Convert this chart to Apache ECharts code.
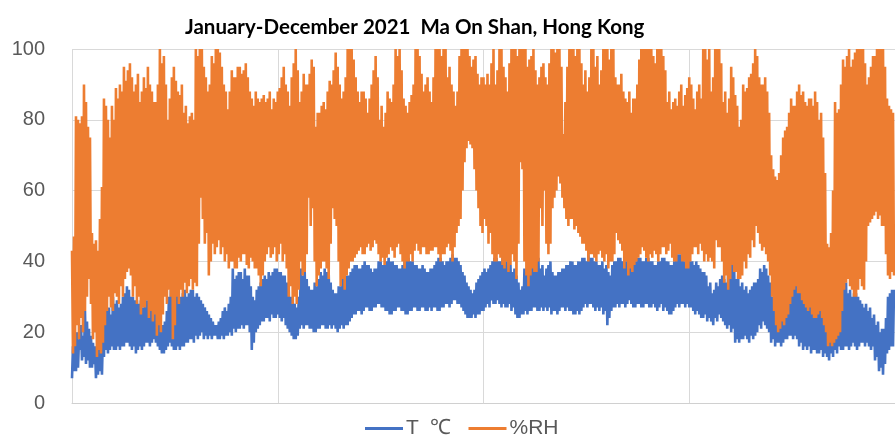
<!DOCTYPE html>
<html>
<head>
<meta charset="utf-8">
<script src="https://cdn.jsdelivr.net/npm/echarts@6/dist/echarts.min.js"></script>
<style>html,body{margin:0;padding:0;background:#fff}#c{width:895px;height:436px}</style>
</head>
<body>
<div id="c"></div>
<script>
// One sample ≈ one day of 2021 (Jan → Dec); the hourly trace swings between the day's high and low.
const seriesNames = ['T  \u2103', '%RH'];
const yTicks = [0, 20, 40, 60, 80, 100];

const rhHigh = [
  43,47, 81,80, 79,81, 90,85, 78,75, 48,45, 46,43, 52,61, 86,84, 80,75,
  84,80, 89,86, 90,88, 95,91, 94,96, 92,88, 90,93, 85,88, 92,89, 95,90,
  88,85, 85,90, 100,96, 98,90, 80,86, 92,95, 91,88, 87,90, 82,84, 79,81,
  82,80, 100,98, 100,100, 95,92, 88,90, 98,96, 100,100, 99,95, 90,88, 83,88,
  94,92, 92,95, 95,93, 94,96, 92,88, 86,84, 88,86, 85,86, 87,85, 86,88,
  83,86, 85,88,
  89,92, 95,90, 88,84, 92,96, 100,94, 85,88, 93,90, 90,93, 97,95, 78,82,
  82,84, 85,83, 88,91, 90,94, 99,95, 90,86, 88,92, 100,100, 100,97, 92,88,
  85,88, 88,86, 82,86, 90,94, 98,92, 80,84, 78,82, 88,86, 85,90, 100,98,
  100,94, 86,84, 82,85, 87,90, 100,100, 98,93, 88,90, 92,88, 85,92, 100,100,
  100,98, 100,100, 92,95, 90,88, 84,88, 98,100, 100,100, 100,98, 95,97, 98,93,
  90,92, 92,90,
  93,90, 96,100, 90,94, 100,100, 95,92, 88,96, 100,100, 100,98, 100,100, 100,100,
  95,97, 98,100, 94,90, 92,95, 96,92, 90,96, 100,100, 99,100, 100,95, 76,85,
  95,100, 100,100, 98,100, 100,96, 90,94, 88,92, 100,100, 95,98, 90,94, 100,100,
  100,97, 100,100, 92,90, 90,93, 88,86, 85,88, 82,86, 86,90, 97,100, 100,100,
  100,100, 100,98, 96,100, 100,100, 98,94, 85,88, 83,85, 86,84, 88,90, 84,87,
  89,92, 90,86,
  83,88, 90,86, 100,100, 97,100, 88,92, 100,100, 100,96, 85,88, 82,86, 95,92,
  87,84, 78,80, 90,88, 89,92, 93,96, 100,98, 92,90, 90,92, 88,82, 70,66,
  64,63, 65,70, 75,77, 78,82, 86,84, 84,88, 90,87, 88,85, 84,86, 86,84,
  88,85, 80,82, 75,65, 45,44, 48,60, 85,82, 83,90, 97,95, 98,100, 95,97,
  99,100, 100,100, 100,96, 90,92, 95,98, 98,100, 100,100, 100,95, 86,84, 83,82
];
const rhLow = [
  14,16, 22,18, 24,20, 26,30, 35,28, 18,20, 13,15, 14,17, 22,26, 30,27,
  26,31, 30,28, 33,30, 35,37, 38,36, 30,33, 28,30, 25,27, 27,29, 24,26,
  23,25, 19,22, 20,25, 30,28, 32,30, 18,22, 30,28, 32,30, 34,31, 33,35,
  32,34, 33,45, 58,52, 45,48, 36,40, 45,42, 44,46, 42,44, 40,42, 38,40,
  40,38, 38,41, 40,42, 42,39, 38,41, 40,38, 38,36, 33,36, 40,42, 44,41,
  42,44, 40,42,
  45,40, 42,38, 30,33, 28,30, 28,32, 40,36, 37,42, 58,50, 55,40, 33,36,
  38,40, 40,38, 35,45, 55,52, 50,40, 33,35, 32,36, 38,40, 40,41, 42,43,
  44,42, 42,44, 45,43, 44,46, 45,42, 40,41, 39,41, 42,44, 43,41, 44,45,
  42,40, 38,40, 40,42, 40,43, 45,43, 42,44, 44,42, 42,43, 43,44, 44,42,
  40,42, 42,44, 45,43, 40,44, 48,50, 52,60, 68,72, 74,73, 72,66, 60,55,
  50,48, 52,50,
  45,48, 42,40, 40,42, 41,39, 38,40, 37,39, 42,40, 35,45, 68,66, 40,36,
  33,36, 38,37, 37,40, 55,50, 60,45, 42,45, 55,58, 60,64, 62,58, 55,52,
  50,52, 52,49, 50,48, 47,45, 45,43, 40,42, 42,41, 40,42, 43,41, 40,42,
  38,40, 40,42, 48,46, 45,43, 38,40, 36,38, 37,39, 40,41, 42,44, 43,41,
  40,42, 41,43, 42,40, 42,44, 44,42, 43,45, 41,40, 40,42, 42,40, 40,38,
  38,40, 42,44,
  44,42, 45,43, 40,42, 40,41, 40,38, 46,44, 44,40, 34,36, 32,35, 39,37,
  37,35, 35,36, 40,38, 42,41, 46,44, 50,48, 45,43, 44,42, 40,36, 30,26,
  22,20, 21,23, 22,24, 25,28, 30,32, 33,31, 31,29, 28,27, 26,27, 25,24,
  24,25, 26,24, 22,20, 16,17, 16,17, 18,19, 20,26, 32,34, 35,33, 32,30,
  30,32, 35,33, 32,40, 50,51, 52,53, 54,52, 53,50, 50,42, 36,35, 37,36
];
const tHigh = [
  16,19, 20,18, 22,19, 26,23, 21,19, 17,16, 16,18, 18,20, 28,26, 27,25,
  30,28, 29,27, 28,30, 31,33, 32,30, 30,29, 29,28, 29,27, 28,29, 27,28,
  26,27, 24,23, 21,22, 23,26, 30,32, 33,31, 31,30, 30,31, 32,30, 31,32,
  32,30, 31,30, 29,28, 27,26, 25,24, 23,22, 22,23, 24,26, 27,26, 28,30,
  38,35, 36,37, 37,35, 38,36, 36,33, 30,29, 32,33, 34,35, 36,35, 37,36,
  37,38, 38,37,
  37,36, 36,34, 32,30, 30,28, 27,30, 38,36, 37,35, 33,32, 32,34, 33,35,
  37,36, 38,37, 37,34, 32,31, 31,33, 33,35, 34,36, 36,37, 38,39, 39,38,
  38,39, 40,39, 39,38, 37,38, 38,40, 40,39, 39,40, 41,40, 40,39, 39,38,
  38,39, 40,41, 41,40, 40,39, 39,38, 38,39, 38,37, 37,38, 38,39, 40,41,
  41,40, 39,40, 40,41, 42,41, 41,40, 39,37, 36,34, 33,32, 31,32, 34,35,
  36,37, 38,37,
  38,39, 40,41, 41,40, 40,41, 39,40, 38,39, 37,38, 36,34, 32,33, 38,37,
  39,40, 41,40, 42,41, 38,39, 36,38, 39,40, 37,36, 36,37, 37,38, 38,39,
  39,40, 40,39, 39,40, 40,41, 41,40, 42,41, 41,40, 40,39, 39,40, 38,39,
  37,36, 39,40, 40,41, 41,40, 39,40, 40,41, 39,40, 40,41, 41,40, 40,41,
  41,40, 40,39, 39,40, 40,41, 41,40, 40,39, 39,40, 41,42, 42,41, 40,41,
  41,40, 40,39,
  40,39, 38,37, 37,36, 33,34, 31,32, 34,33, 35,36, 35,34, 38,37, 39,38,
  35,36, 33,34, 32,33, 31,32, 33,34, 34,35, 38,37, 39,38, 36,34, 30,31,
  29,30, 31,30, 32,31, 33,34, 35,34, 34,33, 32,33, 31,30, 29,30, 28,29,
  28,27, 26,27, 25,24, 24,23, 27,29, 33,32, 34,33, 33,34, 31,32, 30,31,
  31,30, 29,28, 27,28, 26,27, 24,25, 22,23, 20,21, 21,24, 30,31, 32,32
];
const tLow = [
  7,9, 9,10, 15,12, 13,11, 12,10, 10,11, 7,8, 9,8, 13,15, 14,15,
  16,15, 15,16, 15,16, 16,17, 17,16, 15,16, 14,15, 16,15, 16,17, 17,16,
  17,18, 17,16, 15,14, 14,15, 16,17, 16,15, 15,16, 15,16, 16,17, 17,18,
  18,17, 19,18, 19,20, 18,19, 18,19, 18,19, 19,18, 18,19, 18,19, 19,20,
  19,21, 20,21, 21,22, 21,22, 22,20, 15,17, 20,21, 22,23, 23,24, 24,23,
  25,24, 24,25,
  24,23, 24,22, 21,20, 19,18, 18,19, 21,22, 21,22, 22,21, 21,20, 20,21,
  21,22, 22,21, 21,22, 21,22, 21,20, 21,22, 21,22, 22,23, 24,25, 25,26,
  26,25, 26,27, 27,26, 26,27, 27,28, 28,27, 27,26, 26,25, 25,26, 26,27,
  27,26, 26,25, 25,26, 26,27, 27,26, 26,27, 27,26, 26,27, 26,27, 27,26,
  26,27, 27,28, 28,27, 28,29, 29,28, 28,27, 26,25, 24,24, 24,25, 24,25,
  25,26, 26,27,
  28,27, 29,28, 28,29, 28,27, 28,27, 27,28, 26,27, 25,24, 24,25, 25,26,
  25,26, 26,27, 27,26, 26,27, 26,27, 26,27, 25,26, 26,25, 26,27, 27,26,
  27,26, 26,25, 25,26, 25,26, 27,28, 27,28, 28,27, 26,27, 26,27, 25,26,
  22,24, 26,27, 27,28, 27,28, 28,27, 28,29, 28,27, 27,28, 28,27, 27,28,
  28,27, 27,28, 27,26, 27,28, 26,27, 26,25, 25,26, 27,28, 27,28, 28,27,
  28,27, 27,26,
  25,26, 25,24, 24,25, 23,24, 23,22, 24,23, 25,24, 23,22, 21,22, 20,21,
  17,18, 17,18, 18,19, 18,17, 19,18, 19,20, 22,21, 23,22, 21,20, 17,18,
  16,17, 17,16, 17,18, 18,19, 19,18, 19,18, 16,17, 15,16, 15,16, 14,15,
  15,14, 14,15, 13,14, 13,12, 14,13, 15,14, 16,15, 15,16, 16,15, 16,17,
  16,15, 16,17, 17,16, 17,16, 15,16, 12,13, 9,10, 8,11, 14,15, 16,16
];

if (rhLow.length !== rhHigh.length || tHigh.length !== rhHigh.length || tLow.length !== rhHigh.length) {
  throw new Error('length mismatch ' + [rhHigh.length, rhLow.length, tHigh.length, tLow.length].join(','));
}

function zig(a, b) { // interleave each day's two extremes into one continuous trace
  const out = [];
  for (let i = 0; i < a.length; i++) { out.push([2 * i, a[i]]); out.push([2 * i + 1, b[i]]); }
  return out;
}
const nPts = rhHigh.length * 2;

const chart = echarts.init(document.getElementById('c'), null, {renderer: 'canvas'});
chart.setOption({
  animation: false,
  backgroundColor: '#ffffff',
  title: {
    text: 'January-December 2021  Ma On Shan, Hong Kong',
    left: 180, top: 12,
    textStyle: {fontFamily: 'Lato, Liberation Sans, Arial, sans-serif', fontWeight: 'bold', fontSize: 20.5, color: '#000'}
  },
  legend: {
    data: seriesNames,
    left: 360, top: 413,
    icon: 'rect', itemWidth: 38, itemHeight: 3, itemGap: 17,
    textStyle: {fontFamily: 'Liberation Sans, Arial, sans-serif', fontSize: 21, color: '#595959', padding: [0,0,0,-2]}
  },
  grid: {left: 72, right: 0, top: 49, bottom: 33, containLabel: false},
  xAxis: {
    type: 'value', min: 0, max: nPts, interval: nPts / 4,
    axisLine: {show: true, onZero: false, lineStyle: {color: '#D0D0D0', width: 1}},
    axisTick: {show: false}, axisLabel: {show: false},
    splitLine: {show: true, lineStyle: {color: '#D9D9D9', width: 1}}
  },
  yAxis: {
    type: 'value', min: yTicks[0], max: yTicks[yTicks.length - 1], interval: 20,
    axisLine: {show: false}, axisTick: {show: false},
    axisLabel: {margin: 27, fontFamily: 'Liberation Sans, Arial, sans-serif', fontSize: 20, color: '#595959'},
    splitLine: {show: true, lineStyle: {color: '#D9D9D9', width: 1}}
  },
  series: [
    {name: seriesNames[0], type: 'line', data: zig(tLow, tHigh), showSymbol: false, symbol: 'none',
     lineStyle: {color: '#4472C4', width: 2.6}, itemStyle: {color: '#4472C4'}, z: 2},
    {name: seriesNames[1], type: 'line', data: zig(rhHigh, rhLow), showSymbol: false, symbol: 'none',
     lineStyle: {color: '#ED7D31', width: 2.6}, itemStyle: {color: '#ED7D31'}, z: 3}
  ]
});
</script>
</body>
</html>
